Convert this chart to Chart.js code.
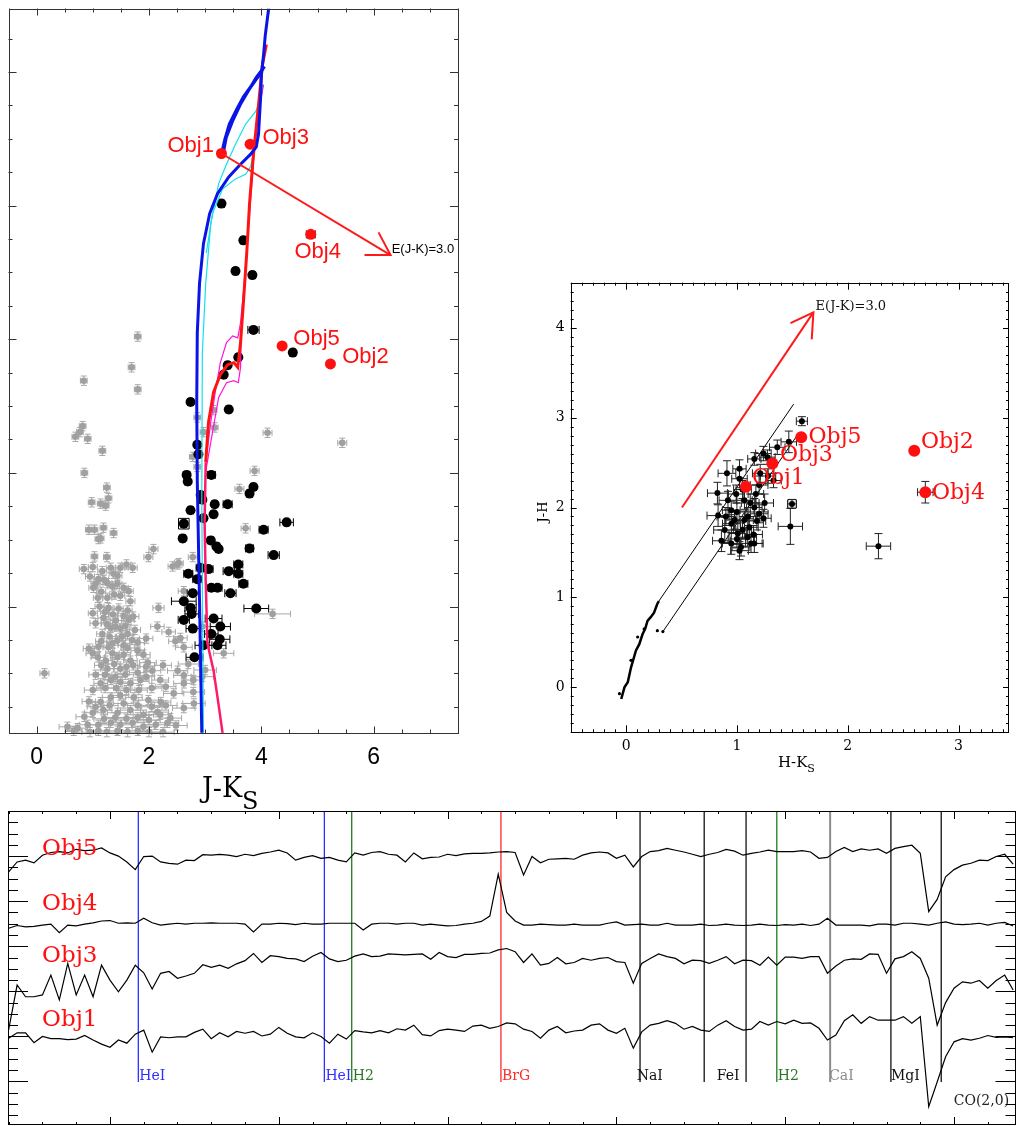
<!DOCTYPE html>
<html>
<head>
<meta charset="utf-8">
<script src="https://cdn.jsdelivr.net/npm/chart.js@4.4.1/dist/chart.umd.min.js"></script>
<style>
  body { margin: 0; background: #fff; width: 1016px; height: 1126px; position: relative; overflow: hidden; }
  canvas { position: absolute; }
</style>
</head>
<body>
<canvas id="cmd" width="470" height="815" style="left:0;top:0"></canvas>
<canvas id="ccd" width="480" height="520" style="left:536px;top:260px"></canvas>
<canvas id="spec" width="1016" height="321" style="left:0;top:805px"></canvas>
<script>
// ---------- colour-magnitude diagram (J-Ks vs Ks) ----------
// field stars [J-Ks, Ks, err(J-Ks)]
const cmdField = [
  [1.80,7.96,0.06],[1.69,8.42,0.06],[0.84,8.62,0.06],[1.80,8.75,0.06],[0.82,9.30,0.06],[0.77,9.39,0.06],
  [0.69,9.46,0.06],[0.91,9.49,0.06],[1.17,9.67,0.06],[4.11,9.40,0.08],[5.44,9.55,0.08],[0.85,10.00,0.06],
  [3.88,9.97,0.08],[1.25,10.22,0.06],[3.61,10.24,0.08],[0.98,10.44,0.06],[1.14,10.46,0.06],[1.28,10.38,0.06],
  [1.23,10.49,0.06],[3.72,10.83,0.08],[0.93,10.85,0.06],[1.03,10.85,0.06],[1.19,10.82,0.06],[1.37,10.90,0.06],
  [1.14,10.98,0.06],[1.10,10.99,0.06],[2.08,11.14,0.08],[1.99,11.26,0.08],[1.03,11.25,0.06],[1.25,11.26,0.06],
  [2.51,11.37,0.08],[2.42,11.40,0.08],[2.53,11.35,0.08],[0.84,11.44,0.08],[1.00,11.41,0.08],[1.17,11.47,0.08],
  [1.32,11.42,0.08],[1.49,11.42,0.08],[1.60,11.37,0.08],[1.71,11.42,0.08],[1.37,11.51,0.08],[1.44,11.54,0.08],
  [1.10,11.59,0.08],[1.05,11.66,0.08],[1.01,11.72,0.08],[1.26,11.65,0.08],[1.44,11.66,0.08],[1.64,11.77,0.08],
  [1.09,11.87,0.08],[1.26,11.87,0.08],[1.49,11.84,0.08],[1.67,11.92,0.08],[2.17,12.02,0.10],[2.62,11.77,0.10],
  [2.78,11.26,0.08],[1.12,12.00,0.08],[1.28,12.02,0.08],[1.46,12.03,0.08],[1.62,12.06,0.08],[4.20,12.11,0.32],
  [2.15,12.30,0.12],[2.35,12.38,0.12],[2.47,12.52,0.12],[2.56,12.47,0.12],[1.19,12.17,0.10],[1.41,12.21,0.10],
  [1.64,12.20,0.10],[1.32,12.32,0.10],[1.49,12.33,0.10],[1.17,12.41,0.10],[1.62,12.41,0.10],[1.80,12.54,0.12],
  [1.44,12.51,0.10],[0.93,12.63,0.10],[1.10,12.60,0.10],[1.28,12.61,0.10],[1.55,12.58,0.10],[1.80,12.66,0.12],
  [2.62,12.61,0.15],[3.33,12.70,0.18],[1.09,12.76,0.12],[1.23,12.81,0.12],[1.44,12.76,0.12],[1.67,12.81,0.12],
  [1.98,12.84,0.15],[0.14,13.00,0.08],[1.26,12.93,0.12],[1.49,12.93,0.12],[1.80,12.99,0.15],[2.06,12.96,0.15],
  [2.51,12.96,0.18],[2.62,13.03,0.18],[2.79,13.10,0.18],[2.62,13.15,0.18],[1.14,13.15,0.12],[1.32,13.10,0.12],
  [1.49,13.13,0.15],[1.67,13.15,0.15],[1.85,13.10,0.15],[2.44,13.30,0.18],[2.79,13.28,0.20],[0.93,13.42,0.12],
  [1.14,13.43,0.15],[1.32,13.36,0.15],[1.49,13.33,0.15],[1.73,13.36,0.15],[1.99,13.40,0.18],[2.21,13.43,0.18],
  [2.62,13.52,0.20],[1.00,13.59,0.15],[1.19,13.55,0.15],[1.44,13.59,0.18],[1.67,13.55,0.18],[1.90,13.62,0.18],
  [2.15,13.58,0.20],[2.38,13.67,0.20],[0.55,13.80,0.15],[0.73,13.82,0.15],[0.91,13.77,0.15],[1.10,13.77,0.18],
  [1.32,13.74,0.18],[1.49,13.77,0.20],[1.71,13.74,0.20],[1.90,13.80,0.20],[2.12,13.77,0.20],[2.33,13.74,0.20],
  [0.66,13.86,0.15],[1.10,13.86,0.20],[1.44,13.86,0.20],[1.80,13.86,0.20],[3.15,9.06,0.06],[3.17,9.32,0.06],
  [2.97,9.39,0.06],[2.86,9.17,0.06],[2.78,9.76,0.06],[2.86,9.91,0.06],
  [0.95,11.55,0.08],[1.20,11.60,0.08],[1.35,11.70,0.08],[1.55,11.72,0.08],[1.15,11.78,0.08],[1.38,11.82,0.08],
  [1.00,12.10,0.08],[1.22,12.08,0.08],[1.36,12.12,0.08],[1.55,12.14,0.10],[1.72,12.15,0.10],[1.05,12.25,0.10],
  [1.25,12.26,0.10],[1.40,12.30,0.10],[1.58,12.29,0.10],[1.75,12.35,0.10],[1.30,12.45,0.10],[1.52,12.45,0.10],
  [1.70,12.50,0.12],[1.95,12.48,0.12],[1.15,12.52,0.10],[1.35,12.55,0.10],[1.62,12.62,0.12],[1.00,12.70,0.12],
  [1.35,12.70,0.12],[1.55,12.72,0.12],[1.90,12.72,0.12],[1.15,12.88,0.12],[1.38,12.86,0.12],[1.60,12.90,0.12],
  [1.72,12.88,0.12],[1.95,12.90,0.15],[2.25,12.88,0.15],[1.05,13.02,0.12],[1.22,13.02,0.12],[1.40,13.05,0.12],
  [1.58,13.02,0.15],[1.95,13.05,0.15],[2.20,13.10,0.15],[1.00,13.25,0.15],[1.22,13.22,0.15],[1.42,13.22,0.15],
  [1.60,13.25,0.15],[1.82,13.25,0.15],[2.05,13.22,0.18],[2.30,13.20,0.18],[1.05,13.50,0.15],[1.30,13.48,0.15],
  [1.55,13.45,0.18],[1.80,13.48,0.18],[2.05,13.50,0.18],[2.30,13.48,0.20],[0.85,13.65,0.15],[1.20,13.68,0.18],
  [1.40,13.66,0.18],[1.60,13.68,0.18],[1.80,13.66,0.20],[2.00,13.70,0.20],[2.20,13.62,0.20],[2.48,13.78,0.20],
  [0.95,13.88,0.15],[1.25,13.88,0.20],[1.62,13.88,0.20],[2.00,13.88,0.20],[2.25,13.88,0.20],
  [2.70,12.86,0.18],[2.95,13.05,0.20],[2.80,13.45,0.20],[3.00,12.95,0.20],[2.95,12.30,0.15]
];
const fieldKsErr = 0.07;

// cluster members [J-Ks, Ks, err(J-Ks)]
const cmdMembers = [
  [3.29,5.97,0.05],[3.68,6.52,0.05],[3.54,6.98,0.05],[3.84,7.04,0.05],[3.86,7.86,0.10],[4.56,8.20,0.05],
  [3.59,8.27,0.05],[3.40,8.39,0.05],[3.33,8.53,0.05],[2.74,8.94,0.05],[3.42,9.05,0.05],[2.86,9.58,0.05],
  [2.88,9.72,0.05],[2.67,10.03,0.05],[3.11,10.03,0.07],[2.69,10.13,0.05],[3.86,10.21,0.05],[3.79,10.31,0.05],
  [2.92,10.33,0.05],[2.95,10.40,0.05],[3.17,10.47,0.05],[3.40,10.47,0.08],[2.74,10.56,0.05],[3.15,10.62,0.05],
  [2.97,10.68,0.05],[2.62,10.76,0.05],[4.45,10.74,0.12],[4.04,10.85,0.08],[2.60,10.98,0.05],[3.10,11.01,0.05],
  [3.20,11.10,0.05],[3.24,11.14,0.05],[3.79,11.13,0.07],[4.22,11.23,0.10],[3.59,11.37,0.08],[2.70,11.51,0.08],
  [2.92,11.42,0.08],[3.06,11.44,0.08],[3.42,11.47,0.10],[3.59,11.51,0.08],[2.86,11.59,0.08],[3.68,11.66,0.08],
  [3.11,11.72,0.08],[3.22,11.72,0.08],[3.45,11.80,0.10],[2.78,11.80,0.10],[2.62,11.92,0.22],[3.91,12.03,0.22],
  [2.74,12.02,0.10],[2.76,12.11,0.12],[2.62,12.20,0.10],[2.78,12.33,0.12],[3.15,12.18,0.15],[3.27,12.30,0.18],
  [3.11,12.41,0.12],[3.26,12.49,0.18],[3.22,12.58,0.15],[2.97,12.58,0.15],[2.81,12.76,0.15]
];
const cmdBoxed = [[2.62,10.76]];

const objNames = ['Obj1','Obj2','Obj3','Obj4','Obj5'];
const cmdObjects = [[3.29,5.22],[5.23,8.37],[3.80,5.08],[4.88,6.43],[4.37,8.10]];
const cmdObjErr = [0,0,0,0.08,0];
const cmdObjLabelPos = [[2.33,5.10],[5.44,8.27],[4.02,4.98],[4.59,6.70],[4.57,7.99]];

// isochrones
const isoBlue = [[2.94,13.89],[2.90,11.92],[2.86,10.13],[2.85,8.94],[2.86,7.90],[2.90,7.16],[2.97,6.57],
  [3.08,6.12],[3.22,5.82],[3.42,5.57],[3.63,5.38],[3.81,5.23],[3.91,5.12],[3.95,4.93],[3.97,4.63],
  [3.99,4.34],[4.00,4.04],[4.04,3.74],[4.07,3.45],[4.13,3.05]];
const isoBlueLoopA = [[3.29,5.23],[3.35,5.01],[3.43,4.78],[3.56,4.56],[3.68,4.37],[3.81,4.22],[3.91,4.08],[4.00,3.98],[4.06,3.92]];
const isoBlueLoopB = [[3.33,5.20],[3.38,4.98],[3.49,4.74],[3.63,4.49],[3.79,4.26],[3.95,4.07],[4.04,3.94]];
const isoCyanA = [[2.97,13.89],[2.94,10.43],[2.95,8.20],[3.01,7.16],[3.10,6.27],[3.24,5.67],[3.38,5.38],
  [3.54,5.08],[3.72,4.78],[3.90,4.59],[3.95,4.49],[4.02,3.89],[4.09,3.30],[4.15,3.05]];
const isoCyanB = [[3.02,6.71],[3.13,6.12],[3.31,5.75],[3.54,5.60],[3.72,5.53],[3.81,5.41],[3.86,5.23],
  [3.91,4.86],[3.97,4.49],[4.02,4.19]];
const isoRed = [[3.01,9.84],[3.06,9.24],[3.15,8.79],[3.27,8.53],[3.40,8.38],[3.51,8.35],[3.58,8.42],
  [3.63,8.05],[3.68,7.46],[3.74,6.71],[3.79,5.97],[3.86,5.23],[3.95,4.49],[4.02,3.89],[4.09,3.59]];
const isoPink = [[3.01,9.84],[2.99,10.73],[3.01,11.62],[3.04,12.55],[3.15,12.96],[3.22,13.36],[3.31,13.89]];
const isoMagentaA = [[3.01,9.84],[3.10,9.24],[3.18,8.79],[3.27,8.35],[3.38,8.05],[3.49,7.95],[3.58,7.98],
  [3.63,7.75],[3.68,7.31],[3.75,6.57],[3.83,5.67],[3.91,4.78],[3.99,4.41],[4.04,4.19]];
const isoMagentaB = [[3.01,9.98],[3.10,9.54],[3.24,8.87],[3.38,8.65],[3.51,8.62],[3.59,8.65],[3.63,8.42],[3.64,8.05]];

const cmdArrow = [[3.29,5.22],[6.30,6.74]];
const cmdArrowHead = [[6.085,6.40],[6.30,6.74],[5.836,6.74]];
const cmdXLabels = [0,2,4,6];

// ---------- colour-colour diagram (H-Ks vs J-H) ----------
// [H-Ks, J-H, errX, errY]
const ccMembers = [
  [1.586,2.96,0.05,0.05],[1.468,2.73,0.07,0.12],[1.364,2.67,0.07,0.08],[1.239,2.60,0.07,0.08],
  [1.157,2.54,0.06,0.07],[1.275,2.56,0.07,0.08],[1.21,2.38,0.07,0.10],[1.023,2.43,0.06,0.10],
  [0.910,2.38,0.08,0.14],[0.824,2.16,0.09,0.12],[1.023,2.32,0.07,0.10],[0.830,1.91,0.10,0.12],
  [1.497,2.04,0.04,0.05],[1.482,1.79,0.11,0.20],[1.239,1.88,0.07,0.10],[1.157,2.00,0.07,0.10],
  [0.949,1.97,0.08,0.10],[0.890,1.75,0.10,0.14],[1.008,1.71,0.08,0.12],[1.112,1.78,0.08,0.10],
  [0.949,1.60,0.08,0.12],[1.037,1.56,0.08,0.10],[1.157,1.60,0.08,0.10],[1.068,2.08,0.07,0.10],
  [0.979,1.86,0.08,0.10],[1.068,1.86,0.08,0.10],[1.171,2.15,0.07,0.10],[0.919,2.08,0.08,0.10],
  [1.097,1.67,0.08,0.10],[0.993,2.15,0.07,0.10],[1.201,1.93,0.08,0.10],[0.86,1.63,0.08,0.12],
  [2.277,1.57,0.11,0.14],[1.127,1.60,0.10,0.10],[1.023,1.52,0.08,0.10],[0.95,1.82,0.08,0.10],
  [1.00,1.95,0.08,0.10],[1.05,1.75,0.08,0.10],[1.10,1.90,0.08,0.10],[1.15,1.70,0.08,0.10],
  [1.00,1.65,0.08,0.10],[1.12,2.05,0.08,0.10],[1.05,2.20,0.08,0.10],[1.20,2.25,0.08,0.10],
  [0.90,1.90,0.08,0.10],[1.18,1.85,0.08,0.10],[1.25,2.05,0.08,0.10],[1.28,2.35,0.07,0.08],[1.33,2.30,0.07,0.08]
];
const ccBoxed = [[1.497,2.04]];
const ccObjects = [[1.08,2.23],[2.60,2.63],[1.32,2.49],[2.70,2.17],[1.58,2.78]];
const ccObjErr = [null,null,null,[0.07,0.12],null];
const ccObjLabelPos = [[1.135,2.32],[2.66,2.72],[1.388,2.58],[2.76,2.16],[1.646,2.78]];
const ccDwarfs = [[-0.044,-0.13],[-0.015,0],[0.015,0.056],[0.044,0.22],[0.089,0.41],[0.119,0.48],[0.148,0.59],
  [0.172,0.65],[0.193,0.74],[0.222,0.78],[0.252,0.83],[0.282,0.93],[0.296,0.96]];
const ccGiants = [[-0.06,-0.07],[0.044,0.30],[0.104,0.56],[0.163,0.65],[0.282,0.63],[0.332,0.62]];
const ccBandUpper = [[0.296,0.96],[1.512,3.15]];
const ccBandLower = [[0.332,0.62],[1.548,2.81]];
const ccArrow = [[0.504,2.00],[1.69,4.17]];
const ccArrowHead = [[1.483,4.05],[1.69,4.17],[1.675,3.87]];
const ccXLabels = [0,1,2,3];
const ccYLabels = [0,1,2,3,4];

// ---------- K-band spectra ----------
const wave = [
  2.0200,2.0225,2.0250,2.0275,2.0300,2.0325,2.0350,2.0375,2.0400,2.0425,
  2.0450,2.0475,2.0500,2.0525,2.0550,2.0575,2.0600,2.0625,2.0650,2.0675,
  2.0700,2.0725,2.0750,2.0775,2.0800,2.0825,2.0850,2.0875,2.0900,2.0925,
  2.0950,2.0975,2.1000,2.1025,2.1050,2.1075,2.1100,2.1125,2.1150,2.1175,
  2.1200,2.1225,2.1250,2.1275,2.1300,2.1325,2.1350,2.1375,2.1400,2.1425,
  2.1450,2.1475,2.1500,2.1525,2.1550,2.1575,2.1600,2.1625,2.1650,2.1675,
  2.1700,2.1725,2.1750,2.1775,2.1800,2.1825,2.1850,2.1875,2.1900,2.1925,
  2.1950,2.1975,2.2000,2.2025,2.2050,2.2075,2.2100,2.2125,2.2150,2.2175,
  2.2200,2.2225,2.2250,2.2275,2.2300,2.2325,2.2350,2.2375,2.2400,2.2425,
  2.2450,2.2475,2.2500,2.2525,2.2550,2.2575,2.2600,2.2625,2.2650,2.2675,
  2.2700,2.2725,2.2750,2.2775,2.2800,2.2825,2.2850,2.2875,2.2900,2.2925,
  2.2950,2.2975,2.3000,2.3025,2.3050,2.3075,2.3100,2.3125,2.3150,2.3175
];
// flux + offset
const specObj5 = [
  5.65,5.87,5.91,5.85,6.02,6.08,6.10,6.07,6.15,6.12, 6.13,6.18,6.07,6.00,5.87,5.70,5.99,6.00,5.87,5.84,
  5.82,5.91,5.90,6.03,6.02,6.04,6.02,5.99,6.04,6.01, 6.06,6.09,6.13,6.07,5.91,5.97,6.01,5.95,5.97,5.91,
  5.87,6.07,6.02,6.08,6.10,6.04,6.02,5.87,6.07,5.94, 5.97,5.98,6.04,6.01,6.05,6.06,6.06,6.07,6.09,6.10,
  6.08,5.58,5.99,5.85,5.93,5.94,5.95,5.93,6.02,6.07, 6.09,6.07,5.95,6.02,5.76,5.99,6.10,6.12,6.17,6.13,
  6.09,6.04,5.99,6.04,6.08,6.15,6.11,6.02,6.06,6.09, 6.13,6.10,6.10,6.10,6.12,6.09,5.95,5.97,6.10,6.19,
  6.10,6.16,6.13,6.16,6.06,6.17,6.21,6.24,6.06,4.77, 5.04,5.54,5.70,5.80,5.84,5.91,5.90,5.99,6.04,5.82
];
const specObj4 = [
  4.40,4.46,4.43,4.44,4.47,4.49,4.30,4.47,4.45,4.49, 4.52,4.56,4.57,4.51,4.52,4.51,4.62,4.52,4.47,4.49,
  4.51,4.49,4.51,4.51,4.52,4.51,4.51,4.51,4.49,4.32, 4.49,4.49,4.51,4.50,4.48,4.51,4.49,4.49,4.51,4.51,
  4.51,4.51,4.36,4.49,4.51,4.51,4.49,4.51,4.51,4.47, 4.49,4.47,4.45,4.46,4.49,4.51,4.55,4.67,5.60,4.75,
  4.56,4.47,4.47,4.49,4.48,4.47,4.47,4.49,4.47,4.47, 4.47,4.51,4.54,4.47,4.48,4.49,4.47,4.47,4.51,4.47,
  4.47,4.47,4.49,4.46,4.47,4.49,4.47,4.46,4.47,4.49, 4.47,4.46,4.48,4.47,4.49,4.46,4.49,4.62,4.47,4.47,
  4.47,4.47,4.45,4.49,4.49,4.47,4.51,4.51,4.49,4.47, 4.51,4.54,4.49,4.48,4.49,4.51,4.47,4.51,4.53,4.45
];
const specObj3 = [
  2.15,3.14,2.88,2.88,2.92,3.36,2.81,3.62,2.92,3.36, 2.88,3.58,3.25,2.99,3.25,3.58,3.41,3.05,3.40,3.44,
  3.29,3.34,3.40,3.59,3.53,3.58,3.51,3.61,3.68,3.84, 3.64,3.79,3.77,3.73,3.72,3.66,3.78,3.86,3.72,3.66,
  3.69,3.78,3.83,3.77,3.78,3.83,3.82,3.81,3.82,3.83, 3.71,3.86,3.77,3.75,3.82,3.82,3.84,3.85,3.92,3.95,
  3.88,3.64,3.83,3.58,3.62,3.75,3.61,3.64,3.73,3.69, 3.73,3.75,3.66,3.64,3.18,3.62,3.73,3.83,3.77,3.73,
  3.61,3.69,3.68,3.62,3.69,3.77,3.61,3.69,3.68,3.58, 3.76,3.58,3.76,3.76,3.73,3.77,3.77,3.40,3.56,3.69,
  3.72,3.71,3.83,3.82,3.40,3.72,3.77,3.88,3.73,3.29, 2.25,2.75,3.07,3.21,3.18,3.24,3.07,3.24,3.36,3.03
];
const specObj1 = [
  1.96,2.08,2.08,1.86,2.00,1.95,1.95,1.93,1.94,2.02, 1.92,1.83,1.76,1.92,1.85,2.05,2.14,1.65,1.99,1.97,
  1.99,1.99,2.09,2.16,1.95,2.08,1.99,2.11,2.07,2.11, 2.01,2.05,2.20,2.07,1.99,1.97,2.08,2.00,1.85,2.05,
  1.94,2.13,2.10,2.08,2.13,2.08,2.17,2.14,2.25,2.04, 2.01,2.13,2.16,2.14,2.11,2.23,2.25,2.18,2.22,2.30,
  2.28,2.16,2.11,1.96,2.14,2.22,2.08,2.12,2.14,2.25, 2.28,2.14,2.07,2.18,1.74,2.10,2.25,2.29,2.35,2.29,
  2.16,2.22,2.14,2.11,2.25,2.35,2.22,2.14,2.16,2.33, 2.25,2.33,2.28,2.36,2.29,2.30,2.18,1.92,2.03,2.35,
  2.48,2.29,2.44,2.36,2.36,2.36,2.44,2.29,2.44,0.44, 0.99,1.55,1.88,1.95,1.92,1.96,2.02,1.98,1.99,1.97
];
const specNames = ['Obj5','Obj4','Obj3','Obj1'];
const specLabelLevel = [6.02,4.80,3.66,2.22];
// line identifications: wavelength, colour, label, label start
const specLines = [
  [2.0584,'#2f2fff','HeI',2.0587],[2.1135,'#2f2fff','HeI',2.1138],[2.1216,'#237a23','H2',2.1219],
  [2.1658,'#ff2a2a','BrG',2.1661],[2.2070,'#111','NaI',2.2060],[2.2260,'#111','FeI',2.2297],
  [2.2384,'#111','',0],[2.2475,'#237a23','H2',2.2478],[2.2633,'#8c8c8c','CaI',2.2630],
  [2.2813,'#111','MgI',2.2813],[2.2962,'#111','',0]
];

// ---------- helpers ----------
const pts = arr => arr.map(p => ({ x: p[0], y: p[1] }));

function line(data, color, width) {
  return { data: pts(data), showLine: true, borderColor: color, borderWidth: width, pointRadius: 0, fill: false, tension: 0 };
}

const errorBars = {
  id: 'errorBars',
  beforeDatasetDraw(chart, args) {
    const ds = chart.data.datasets[args.index];
    if (!ds.errors) return;
    const { ctx, scales: { x, y } } = chart;
    const cap = ds.errorCap || 3;
    ctx.save();
    ctx.strokeStyle = ds.errorColor || '#000';
    ctx.lineWidth = 1;
    ds.data.forEach((p, i) => {
      const e = ds.errors[i];
      if (!e) return;
      const px = x.getPixelForValue(p.x), py = y.getPixelForValue(p.y);
      ctx.beginPath();
      if (e[0]) {
        const l = x.getPixelForValue(p.x - e[0]), r = x.getPixelForValue(p.x + e[0]);
        ctx.moveTo(l, py); ctx.lineTo(r, py);
        ctx.moveTo(l, py - cap); ctx.lineTo(l, py + cap);
        ctx.moveTo(r, py - cap); ctx.lineTo(r, py + cap);
      }
      if (e[1]) {
        const t = y.getPixelForValue(p.y + e[1]), b = y.getPixelForValue(p.y - e[1]);
        ctx.moveTo(px, t); ctx.lineTo(px, b);
        ctx.moveTo(px - cap, t); ctx.lineTo(px + cap, t);
        ctx.moveTo(px - cap, b); ctx.lineTo(px + cap, b);
      }
      ctx.stroke();
    });
    ctx.restore();
  }
};

// box with inward ticks on the four sides, plus labels / titles
function frame(cfg) {
  return {
    id: 'frame',
    afterDraw(chart) {
      const { ctx, chartArea: a, scales: { x, y } } = chart;
      ctx.save();
      ctx.strokeStyle = cfg.color;
      ctx.lineWidth = 1;
      ctx.strokeRect(Math.round(a.left) + 0.5, Math.round(a.top) + 0.5,
        Math.round(a.right - a.left) - 1, Math.round(a.bottom - a.top) - 1);
      const isMajor = (v, m) => Math.abs(v / m - Math.round(v / m)) < 1e-6;
      ctx.beginPath();
      for (let k = Math.ceil(x.min / cfg.xMinor - 1e-9); k * cfg.xMinor <= x.max + 1e-9; k++) {
        const v = k * cfg.xMinor, px = Math.round(x.getPixelForValue(v)) + 0.5;
        const maj = isMajor(v, cfg.xMajor);
        const lb = maj ? cfg.xLen[1] : cfg.xLen[0];
        const lt = maj ? cfg.xTopLen[1] : cfg.xTopLen[0];
        ctx.moveTo(px, a.bottom); ctx.lineTo(px, a.bottom - lb);
        ctx.moveTo(px, a.top); ctx.lineTo(px, a.top + lt);
      }
      for (let k = Math.ceil(y.min / cfg.yMinor - 1e-9); k * cfg.yMinor <= y.max + 1e-9; k++) {
        const v = k * cfg.yMinor, py = Math.round(y.getPixelForValue(v)) + 0.5;
        const len = isMajor(v, cfg.yMajor) ? cfg.yLen[1] : cfg.yLen[0];
        ctx.moveTo(a.left, py); ctx.lineTo(a.left + len, py);
        ctx.moveTo(a.right, py); ctx.lineTo(a.right - len, py);
      }
      ctx.stroke();
      ctx.fillStyle = '#000';
      if (cfg.xLabels) {
        ctx.font = cfg.labelFont; ctx.textAlign = 'center'; ctx.textBaseline = 'middle';
        cfg.xLabels.forEach(v => ctx.fillText(String(v), x.getPixelForValue(v), a.bottom + cfg.xLabelGap));
      }
      if (cfg.yLabels) {
        ctx.font = cfg.labelFont; ctx.textAlign = 'right'; ctx.textBaseline = 'middle';
        cfg.yLabels.forEach(v => ctx.fillText(String(v), a.left - cfg.yLabelGap, y.getPixelForValue(v)));
      }
      if (cfg.titles) cfg.titles(ctx, a);
      ctx.restore();
    }
  };
}

// texts anchored in data coordinates
function notes(list) {
  return {
    id: 'notes',
    afterDatasetsDraw(chart) {
      const { ctx, scales: { x, y } } = chart;
      ctx.save();
      list.forEach(n => {
        ctx.font = n.font; ctx.fillStyle = n.color;
        ctx.textAlign = n.align || 'left'; ctx.textBaseline = n.baseline || 'middle';
        ctx.fillText(n.text, x.getPixelForValue(n.x), y.getPixelForValue(n.y));
      });
      ctx.restore();
    }
  };
}

function subTitle(ctx, main, sub, x, y, font, subFont, dy) {
  ctx.font = font; ctx.textAlign = 'left'; ctx.textBaseline = 'alphabetic';
  ctx.fillText(main, x, y);
  const w = ctx.measureText(main).width;
  ctx.font = subFont;
  ctx.fillText(sub, x + w, y + dy);
}

function makeChart(id, datasets, xr, yr, pad, extra, reverseY) {
  return new Chart(document.getElementById(id), {
    type: 'scatter',
    data: { datasets },
    options: {
      responsive: false, animation: false, events: [],
      layout: { padding: pad },
      plugins: { legend: { display: false }, tooltip: { enabled: false } },
      scales: {
        x: { type: 'linear', display: false, min: xr[0], max: xr[1] },
        y: { type: 'linear', display: false, min: yr[0], max: yr[1], reverse: !!reverseY }
      }
    },
    plugins: [errorBars].concat(extra)
  });
}

// ---------- panel 1: CMD ----------
makeChart('cmd', [
  Object.assign(line(cmdArrow, '#ff1a1a', 2), { order: 0 }),
  Object.assign(line(cmdArrowHead, '#ff1a1a', 2), { order: 0 }),
  { data: pts(cmdObjects), pointRadius: 5.5, backgroundColor: '#ff1010', borderWidth: 0, order: 1,
    errors: cmdObjErr.map(e => e ? [e, 0] : null), errorColor: '#222', errorCap: 4 },
  Object.assign(line(isoBlue, '#0a14e6', 3), { order: 2 }),
  Object.assign(line(isoBlueLoopA, '#0a14e6', 3), { order: 2 }),
  Object.assign(line(isoBlueLoopB, '#0a14e6', 2.5), { order: 2 }),
  Object.assign(line(isoCyanA, '#14e0f0', 1.2), { order: 3 }),
  Object.assign(line(isoCyanB, '#14e0f0', 1.2), { order: 3 }),
  Object.assign(line(isoRed, '#ff1414', 3), { order: 2 }),
  Object.assign(line(isoPink, '#ff1a6a', 2.5), { order: 2 }),
  Object.assign(line(isoMagentaA, '#ff14d8', 1.2), { order: 3 }),
  Object.assign(line(isoMagentaB, '#ff14d8', 1.2), { order: 3 }),
  { data: pts(cmdBoxed), pointStyle: 'rect', pointRadius: 7.5, backgroundColor: 'rgba(0,0,0,0)',
    borderColor: '#000', borderWidth: 1, order: 4 },
  { data: pts(cmdMembers), pointRadius: 5, backgroundColor: '#000', borderWidth: 0, order: 5,
    errors: cmdMembers.map(p => [p[2], 0]), errorColor: '#000', errorCap: 4 },
  { data: pts(cmdField), pointRadius: 3.3, backgroundColor: '#a0a0a0', borderWidth: 0, order: 6,
    errors: cmdField.map(p => [p[2], fieldKsErr]), errorColor: '#a8a8a8', errorCap: 3 }
], [-0.5, 7.5], [3.05, 13.9], { left: 8, top: 3.5, right: 12, bottom: 81.5 }, [
  frame({ color: '#333', xMinor: 0.5, xMajor: 2, yMinor: 0.5, yMajor: 2,
    xLen: [4, 7], xTopLen: [4, 7], yLen: [4, 8],
    xLabels: cmdXLabels, labelFont: '23px "Liberation Sans"', xLabelGap: 24,
    titles: (ctx, a) => subTitle(ctx, 'J-K', 'S', 202, 797, '27px "DejaVu Serif"', '24px "DejaVu Serif"', 12) }),
  notes(objNames.map((n, i) => ({ text: n, x: cmdObjLabelPos[i][0], y: cmdObjLabelPos[i][1],
    font: '22px "Liberation Sans"', color: '#ff1010' })).concat([
    { text: 'E(J-K)=3.0', x: 6.32, y: 6.66, font: '13px "Liberation Sans"', color: '#000' }]))
], true);

// ---------- panel 2: colour-colour ----------
makeChart('ccd', [
  { data: pts(ccObjects), pointRadius: 6, backgroundColor: '#ff1010', borderWidth: 0, order: 0,
    errors: ccObjErr, errorColor: '#222', errorCap: 4 },
  Object.assign(line(ccArrow, '#ff1a1a', 2), { order: 1 }),
  Object.assign(line(ccArrowHead, '#ff1a1a', 2), { order: 1 }),
  { data: pts(ccBoxed), pointStyle: 'rect', pointRadius: 6, backgroundColor: 'rgba(0,0,0,0)',
    borderColor: '#222', borderWidth: 1, order: 2 },
  { data: pts(ccMembers), pointRadius: 3, backgroundColor: '#000', borderWidth: 0, order: 3,
    errors: ccMembers.map(p => [p[2], p[3]]), errorColor: '#222', errorCap: 4 },
  Object.assign(line(ccBandUpper, '#000', 1), { order: 4 }),
  Object.assign(line(ccBandLower, '#000', 1), { order: 4 }),
  Object.assign(line(ccDwarfs, '#000', 2.5), { order: 4 }),
  { data: pts(ccGiants), pointRadius: 1.6, backgroundColor: '#000', borderWidth: 0, order: 4 }
], [-0.5, 3.455], [-0.5, 4.5], { left: 34.7, top: 22.7, right: 1, bottom: 47.7 }, [
  frame({ color: '#000', xMinor: 0.1, xMajor: 1, yMinor: 0.1, yMajor: 1,
    xLen: [3, 7], xTopLen: [3, 7], yLen: [3, 6],
    xLabels: ccXLabels, yLabels: ccYLabels, labelFont: '14px "DejaVu Serif"', xLabelGap: 14.5, yLabelGap: 6,
    titles: (ctx, a) => {
      subTitle(ctx, 'H-K', 'S', 242, 507, '15px "DejaVu Serif"', '11px "DejaVu Serif"', 5);
      ctx.save();
      ctx.translate(8, 252); ctx.rotate(-Math.PI / 2);
      ctx.font = '13px "DejaVu Serif"'; ctx.textAlign = 'center'; ctx.textBaseline = 'middle';
      ctx.fillText('J-H', 0, 0);
      ctx.restore();
    } }),
  notes(objNames.map((n, i) => ({ text: n, x: ccObjLabelPos[i][0], y: ccObjLabelPos[i][1],
    font: '22px "DejaVu Serif"', color: '#ff1010' })).concat([
    { text: 'E(J-K)=3.0', x: 1.71, y: 4.23, font: '13px "DejaVu Serif"', color: '#111' }]))
], false);

// ---------- panel 3: spectra ----------
const specData = [specObj5, specObj4, specObj3, specObj1];
const specSets = specData.map(s => ({
  data: wave.map((w, i) => ({ x: w, y: s[i] })), showLine: true, borderColor: '#000',
  borderWidth: 1.2, pointRadius: 0, fill: false, tension: 0, order: 0
}));
const lineSets = specLines.map(l => ({
  data: [{ x: l[0], y: 0.99 }, { x: l[0], y: 7.0 }], showLine: true, borderColor: l[1],
  borderWidth: l[1] === '#8c8c8c' ? 2 : 1.3, pointRadius: 0, fill: false, order: 1
}));
const specNotes = specNames.map((n, i) => ({ text: n, x: 2.0299, y: specLabelLevel[i],
  font: '23px "DejaVu Serif"', color: '#ff1010', baseline: 'alphabetic' }))
  .concat(specLines.filter(l => l[2]).map(l => ({ text: l[2], x: l[3], y: 1.03,
    font: '14px "DejaVu Serif"', color: l[1], baseline: 'alphabetic' })))
  .concat([{ text: 'CO(2,0)', x: 2.2999, y: 0.48, font: '14px "DejaVu Serif"', color: '#222', baseline: 'alphabetic' }]);

makeChart('spec', specSets.concat(lineSets), [2.0198, 2.3182], [0.035, 7.0],
  { left: 8, top: 6, right: 0.5, bottom: 1 }, [
  frame({ color: '#000', xMinor: 0.01, xMajor: 0.05, yMinor: 0.25, yMajor: 1,
    xLen: [3, 8], xTopLen: [3, 8], yLen: [10, 20] }),
  notes(specNotes)
], false);
</script>
</body>
</html>
